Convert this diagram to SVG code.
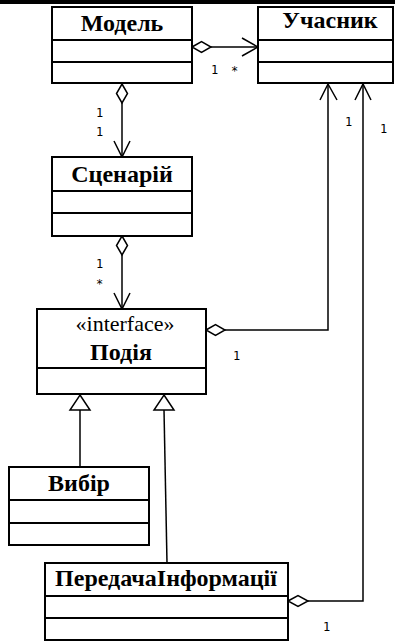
<svg xmlns="http://www.w3.org/2000/svg" width="395" height="642" viewBox="0 0 395 642">
<style>
.box{fill:#fff;stroke:#000;stroke-width:2}
.div{stroke:#000;stroke-width:2}
.t{font-family:"Liberation Serif",serif;font-weight:bold;font-size:24px;text-anchor:middle;fill:#000}
.st{font-family:"Liberation Serif",serif;font-size:22px;text-anchor:middle;fill:#000}
.c{fill:none;stroke:#000;stroke-width:1.5}
.dia{fill:#fff;stroke:#000;stroke-width:1.5}
.m{font-family:"DejaVu Sans Mono",monospace;font-size:12px;fill:#000}
</style>
<rect x="0" y="0" width="395" height="642" fill="#fff"/>
<rect x="0" y="0" width="395" height="4" fill="#000"/>
<g id="connectors">
<line class="c" x1="211" y1="47" x2="258" y2="47"/>
<polygon class="dia" points="192,47 201.5,41.5 211,47 201.5,52.5"/>
<polyline class="c" points="242,38 258,47 242,56"/>
<line class="c" x1="122" y1="103" x2="122" y2="157"/>
<polygon class="dia" points="122,84 127.5,93.5 122,103 116.5,93.5"/>
<polyline class="c" points="114,141 122,157 130,141"/>
<line class="c" x1="122" y1="255" x2="122" y2="309"/>
<polygon class="dia" points="122,236 127.5,245.5 122,255 116.5,245.5"/>
<polyline class="c" points="114,293 122,309 130,293"/>
<polyline class="c" points="225,330 328,330 328,84"/>
<polygon class="dia" points="206,330 215.5,324.5 225,330 215.5,335.5"/>
<polyline class="c" points="320,100 328,84 337,100"/>
<polyline class="c" points="308,601 363,601 363,84"/>
<polygon class="dia" points="288,601 298,595.5 308,601 298,606.5"/>
<polyline class="c" points="355,100 363,84 371,100"/>
<line class="c" x1="80" y1="410" x2="80" y2="467"/>
<polygon class="dia" points="80,395 90,410 70,410"/>
<line class="c" x1="164" y1="410" x2="167" y2="563"/>
<polygon class="dia" points="164,395 174,410 154,410"/>
<text class="m" x="211" y="74">1</text>
<text class="m" x="231" y="75">*</text>
<text class="m" x="96" y="117">1</text>
<text class="m" x="96" y="136">1</text>
<text class="m" x="96" y="268">1</text>
<text class="m" x="96" y="288">*</text>
<text class="m" x="233" y="360">1</text>
<text class="m" x="345" y="126">1</text>
<text class="m" x="380" y="133">1</text>
<text class="m" x="323" y="631">1</text>
</g>
<g id="model">
<rect class="box" x="52" y="7" width="140" height="76"/>
<line class="div" x1="52" y1="40" x2="192" y2="40"/>
<line class="div" x1="52" y1="62" x2="192" y2="62"/>
<text class="t" x="122" y="31">Модель</text>
</g>
<g id="uchasnyk">
<rect class="box" x="258" y="7" width="135" height="76"/>
<line class="div" x1="258" y1="40" x2="393" y2="40"/>
<line class="div" x1="258" y1="62" x2="393" y2="62"/>
<text class="t" x="330" y="28">Учасник</text>
</g>
<g id="scenariy">
<rect class="box" x="52" y="157" width="140" height="79"/>
<line class="div" x1="52" y1="191" x2="192" y2="191"/>
<line class="div" x1="52" y1="213" x2="192" y2="213"/>
<text class="t" x="122" y="182">Сценарій</text>
</g>
<g id="podiya">
<rect class="box" x="37" y="309" width="169" height="85"/>
<line class="div" x1="37" y1="368" x2="206" y2="368"/>
<text class="st" x="125" y="331">«interface»</text>
<text class="t" x="121" y="360">Подія</text>
</g>
<g id="vybir">
<rect class="box" x="9" y="467" width="140" height="78"/>
<line class="div" x1="9" y1="500" x2="149" y2="500"/>
<line class="div" x1="9" y1="523" x2="149" y2="523"/>
<text class="t" x="79" y="491">Вибір</text>
</g>
<g id="peredacha">
<rect class="box" x="45" y="563" width="243" height="77"/>
<line class="div" x1="45" y1="596" x2="288" y2="596"/>
<line class="div" x1="45" y1="618" x2="288" y2="618"/>
<text class="t" x="166" y="586">ПередачаІнформації</text>
</g>
</svg>
